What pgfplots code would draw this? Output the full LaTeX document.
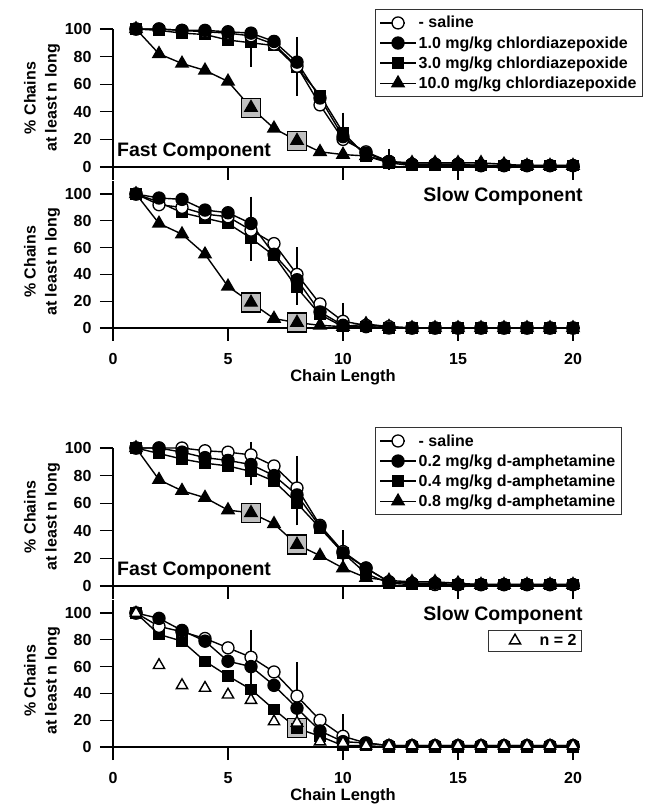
\documentclass[border=0pt]{standalone}
\usepackage{fontspec}
\setmainfont{Liberation Sans}
\usepackage{pgfplots}
\pgfplotsset{compat=1.18}
\tikzset{comp/.style={font=\fontsize{19.5}{19.5}\selectfont\bfseries, inner sep=0pt}}
\pgfplotsset{
  base/.style={
    scale only axis, width=466.9pt,
    xmin=0, xmax=20.3, ymin=0,
    axis x line=bottom, axis y line=left,
    axis line style={-, line width=1.3pt},
    tick align=outside, major tick length=13pt,
    every tick/.style={line width=1.3pt, black},
    xtick={0,5,10,15,20}, ytick={0,20,40,60,80,100},
    clip=false,
    /pgf/number format/assume math mode=true,
    tick label style={font=\fontsize{16}{16}\selectfont\bfseries},
    yticklabel style={xshift=-5pt},
    xticklabel style={yshift=-9pt},
    ylabel={\% Chains\\at least n long},
    every axis plot/.append style={line width=1.4pt, black},
    legend cell align=left,
    legend style={draw=black!80, line width=0.8pt, font=\fontsize{16}{16}\selectfont\bfseries, row sep=3pt, inner xsep=4pt, inner ysep=5pt},
    legend image code/.code={\draw[mark repeat=2,mark phase=2] plot coordinates {(0pt,0pt) (18pt,0pt) (36pt,0pt)};},
  },
  short/.style={base, height=138pt, ymax=100, xticklabels={},
    every axis y label/.style={at={(axis description cs:-0.152,0.5)}, rotate=90, anchor=center, align=center, font=\fontsize{16}{21}\selectfont\bfseries}},
  tall/.style={base, height=147.4pt, ymax=110, xlabel={Chain Length},
    every axis y label/.style={at={(axis description cs:-0.152,0.448)}, rotate=90, anchor=center, align=center, font=\fontsize{16}{21}\selectfont\bfseries},
    every axis x label/.style={at={(axis description cs:0.4926,0)}, yshift=-49pt, anchor=center, font=\fontsize{16.5}{16.5}\selectfont\bfseries}},
  sal/.style={mark=*, mark size=6pt, mark options={solid, fill=white, draw=black, line width=1.3pt}},
  d1/.style={mark=*, mark size=6pt, mark options={solid, fill=black}},
  d2/.style={mark=square*, mark size=5pt, mark options={solid, fill=black}},
  d3/.style={mark=triangle*, mark size=7pt, mark options={solid, fill=black}},
  salleg/.style={sal, legend image code/.code={\path (0pt,0pt) (36pt,0pt); \draw[mark repeat=2,mark phase=2] plot coordinates {(0pt,0pt) (18pt,0pt) (25pt,0pt)};}},
  sig/.style={only marks, forget plot, mark=square*, mark size=9.5pt, mark options={solid, fill=gray!50, draw=black, line width=1.3pt}},
  eb/.style={only marks, mark=none, forget plot, error bars/.cd, y dir=both, y explicit, error bar style={line width=1.3pt, black}, error mark options={mark size=6pt, line width=1.3pt, black}},
}
\begin{document}
\begin{tikzpicture}
\path[use as bounding box] (0,0) rectangle (650pt,804pt);

% ---------------- Panel 1: Fast, chlordiazepoxide
\begin{axis}[short, at={(113pt,637pt)}, anchor=south west,
  legend style={at={(axis description cs:0.561,1.145)}, anchor=north west}]
\addlegendimage{salleg, line width=1.4pt, black}\addlegendentry{- saline}
\addlegendimage{d1, line width=1.4pt, black}\addlegendentry{1.0 mg/kg chlordiazepoxide}
\addlegendimage{d2, line width=1.4pt, black}\addlegendentry{3.0 mg/kg chlordiazepoxide}
\addlegendimage{d3, line width=1.4pt, black}\addlegendentry{10.0 mg/kg chlordiazepoxide}
\addplot[eb] coordinates {(6,90) += (0,4) -= (0,13) (8,73) += (0,17) -= (0,17) (10,25) += (0,10) -= (0,3) (12,3) += (0,6) -= (0,1)};
\addplot[sig] coordinates {(6,43) (8,19)};
\addplot[d3, forget plot] coordinates {(1,100)(2,82)(3,75)(4,70)(5,62)(6,43)(7,28)(8,19)(9,11)(10,9)(11,8)(12,4)(13,3)(14,3)(15,3)(16,3)(17,2)(18,1)(19,1)(20,1)};
\addplot[d2, forget plot] coordinates {(1,100)(2,99)(3,97)(4,96)(5,92)(6,90)(7,88)(8,72)(9,52)(10,25)(11,8)(12,3)(13,1)(14,1)(15,1)(16,1)(17,1)(18,1)(19,1)(20,1)};
\addplot[sal, forget plot] coordinates {(1,100)(2,100)(3,99)(4,98)(5,97)(6,95)(7,89)(8,73)(9,45)(10,20)(11,11)(12,4)(13,2)(14,2)(15,2)(16,1)(17,1)(18,1)(19,1)(20,1)};
\addplot[d1, forget plot] coordinates {(1,100)(2,100)(3,99)(4,99)(5,98)(6,97)(7,91)(8,76)(9,50)(10,22)(11,10)(12,4)(13,2)(14,2)(15,2)(16,1)(17,1)(18,1)(19,1)(20,1)};
\node[comp, anchor=west] at (axis cs:0.17,11) {Fast Component};
\end{axis}

% ---------------- Panel 2: Slow, chlordiazepoxide
\begin{axis}[tall, at={(113pt,476pt)}, anchor=south west]
\addplot[eb] coordinates {(6,67) += (0,26.5) -= (0,12.3) (8,33) += (0,22.7) -= (0,11) (10,2) += (0,12.2) -= (0,2)};
\addplot[sig] coordinates {(6,19) (8,4)};
\addplot[d3, forget plot] coordinates {(1,100)(2,78)(3,70)(4,55)(5,31)(6,19)(7,7)(8,4)(9,2)(10,1)(11,3)(12,1)(13,0)(14,0)(15,0)(16,0)(17,0)(18,0)(19,0)(20,0)};
\addplot[d2, forget plot] coordinates {(1,100)(2,94)(3,86)(4,82)(5,78)(6,67)(7,54)(8,30)(9,10)(10,1)(11,1)(12,0)(13,0)(14,0)(15,0)(16,0)(17,0)(18,0)(19,0)(20,0)};
\addplot[sal, forget plot] coordinates {(1,100)(2,92)(3,90)(4,85)(5,83)(6,73)(7,63)(8,40)(9,18)(10,5)(11,2)(12,1)(13,0)(14,0)(15,0)(16,0)(17,0)(18,0)(19,0)(20,0)};
\addplot[d1, forget plot] coordinates {(1,100)(2,97)(3,96)(4,88)(5,86)(6,78)(7,55)(8,36)(9,12)(10,2)(11,1)(12,0)(13,0)(14,0)(15,0)(16,0)(17,0)(18,0)(19,0)(20,0)};
\node[comp, anchor=east] at (axis cs:20.43,97.8) {Slow Component};
\end{axis}

% ---------------- Panel 3: Fast, d-amphetamine
\begin{axis}[short, at={(113pt,218pt)}, anchor=south west,
  legend style={at={(axis description cs:0.561,1.152)}, anchor=north west}]
\addlegendimage{salleg, line width=1.4pt, black}\addlegendentry{- saline}
\addlegendimage{d1, line width=1.4pt, black}\addlegendentry{0.2 mg/kg d-amphetamine}
\addlegendimage{d2, line width=1.4pt, black}\addlegendentry{0.4 mg/kg d-amphetamine}
\addlegendimage{d3, line width=1.4pt, black}\addlegendentry{0.8 mg/kg d-amphetamine}
\addplot[eb] coordinates {(6,88) += (0,12) -= (0,10.7) (8,65) += (0,25) -= (0,16.7) (10,24) += (0,12.2) -= (0,3)};
\addplot[sig] coordinates {(6,53) (8,30)};
\addplot[d3, forget plot] coordinates {(1,100)(2,77)(3,69)(4,64)(5,55)(6,53)(7,45)(8,30)(9,22)(10,13)(11,6)(12,4)(13,3)(14,3)(15,2)(16,1)(17,1)(18,1)(19,1)(20,1)};
\addplot[d2, forget plot] coordinates {(1,100)(2,96)(3,92)(4,89)(5,87)(6,83)(7,76)(8,60)(9,42)(10,24)(11,9)(12,2)(13,1)(14,1)(15,1)(16,1)(17,1)(18,1)(19,1)(20,1)};
\addplot[sal, forget plot] coordinates {(1,100)(2,100)(3,100)(4,98)(5,97)(6,95)(7,87)(8,71)(9,44)(10,25)(11,13)(12,3)(13,2)(14,1)(15,1)(16,1)(17,1)(18,1)(19,1)(20,1)};
\addplot[d1, forget plot] coordinates {(1,100)(2,100)(3,97)(4,93)(5,91)(6,88)(7,80)(8,66)(9,43)(10,24)(11,13)(12,3)(13,2)(14,2)(15,1)(16,1)(17,1)(18,1)(19,1)(20,1)};
\node[comp, anchor=west] at (axis cs:0.17,10.9) {Fast Component};
\end{axis}

% ---------------- Panel 4: Slow, d-amphetamine
\begin{axis}[tall, at={(113pt,57pt)}, anchor=south west,
  legend style={at={(axis description cs:0.803,0.794)}, anchor=north west, inner xsep=3pt, inner ysep=2pt}]
\addplot[eb] coordinates {(6,60) += (0,23) -= (0,10.5) (8,29) += (0,29.7) -= (0,5) (10,5) += (0,15) -= (0,3)};
\addplot[sig] coordinates {(8,14)};
\addplot[d2, forget plot] coordinates {(1,100)(2,84)(3,79)(4,64)(5,53)(6,43)(7,28)(8,14)(9,8)(10,1)(11,1)(12,0)(13,0)(14,0)(15,0)(16,0)(17,0)(18,0)(19,0)(20,0)};
\addplot[sal, forget plot] coordinates {(1,100)(2,90)(3,86)(4,81)(5,74)(6,67)(7,56)(8,38)(9,20)(10,8)(11,3)(12,1)(13,1)(14,1)(15,1)(16,1)(17,1)(18,1)(19,1)(20,1)};
\addplot[d1, forget plot] coordinates {(1,100)(2,96)(3,87)(4,79)(5,64)(6,60)(7,46)(8,29)(9,12)(10,4)(11,3)(12,1)(13,1)(14,1)(15,1)(16,1)(17,1)(18,1)(19,1)(20,1)};
\addplot[only marks, mark=triangle*, mark size=6.5pt, mark options={solid, fill=white, draw=black, line width=1.4pt},
  legend image code/.code={\path (-23pt,0pt) (22pt,0pt); \draw[only marks] plot coordinates {(0pt,0pt)};}]
  coordinates {(1,100)(2,61)(3,46)(4,44)(5,39)(6,35)(7,19)(8,18)(9,4)(10,3)(11,1)(12,1)(13,1)(14,1)(15,1)(16,1)(17,1)(18,1)(19,1)(20,1)};
\addlegendentry{n = 2}
\node[comp, anchor=east] at (axis cs:20.43,98.5) {Slow Component};
\end{axis}
\end{tikzpicture}
\end{document}
